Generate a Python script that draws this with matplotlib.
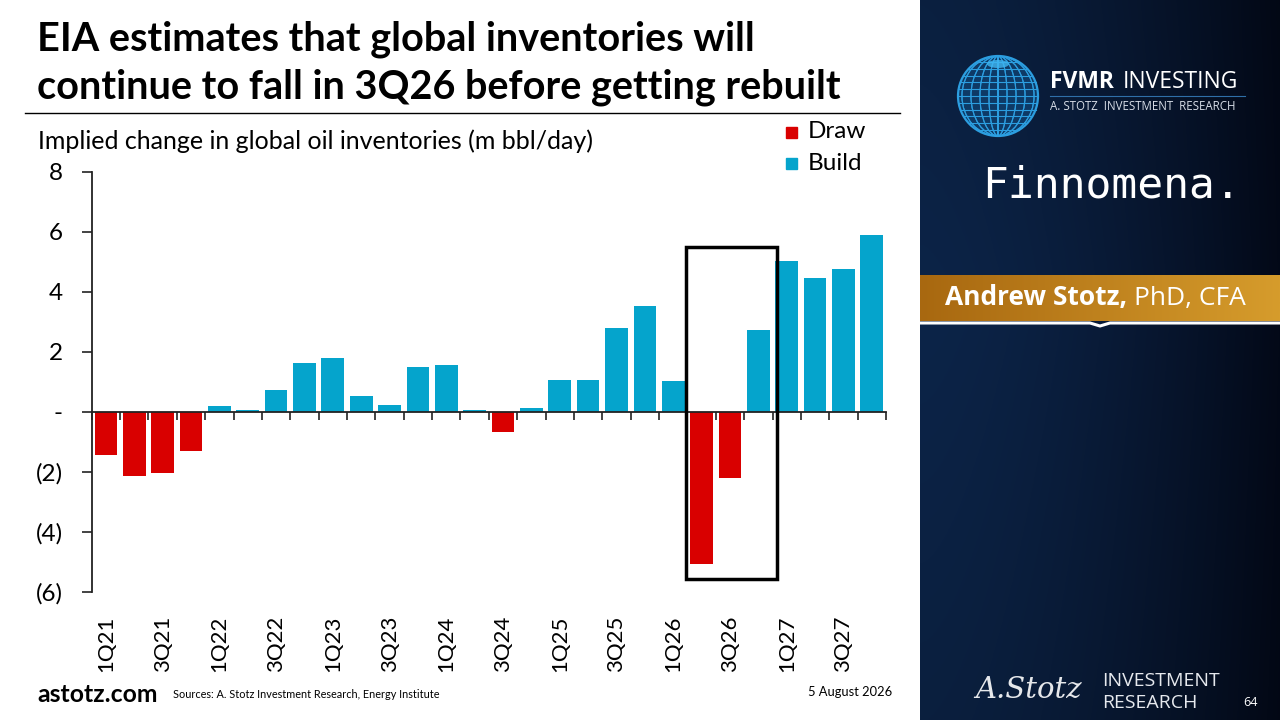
import numpy as np
import matplotlib
matplotlib.use("Agg")
import matplotlib.pyplot as plt
from matplotlib.patches import Rectangle, Circle, Ellipse
from matplotlib.lines import Line2D

# ---------------- data ----------------
quarters = ["1Q21", "2Q21", "3Q21", "4Q21",
            "1Q22", "2Q22", "3Q22", "4Q22",
            "1Q23", "2Q23", "3Q23", "4Q23",
            "1Q24", "2Q24", "3Q24", "4Q24",
            "1Q25", "2Q25", "3Q25", "4Q25",
            "1Q26", "2Q26", "3Q26", "4Q26",
            "1Q27", "2Q27", "3Q27", "4Q27"]
inventory_change = [-1.44, -2.15, -2.05, -1.31,
                    0.20, 0.05, 0.71, 1.61,
                    1.78, 0.52, 0.22, 1.49,
                    1.55, 0.07, -0.68, 0.12,
                    1.05, 1.05, 2.79, 3.52,
                    1.02, -5.09, -2.22, 2.72,
                    5.01, 4.45, 4.76, 5.89]
y_ticks = [8, 6, 4, 2, 0, -2, -4, -6]
y_tick_labels = ["8", "6", "4", "2", "-", "(2)", "(4)", "(6)"]
highlight_start, highlight_end = "2Q26", "4Q26"

RED = "#D90000"
BLUE = "#05A4CC"
FONT = "Lato"

W, H = 1280, 720
fig = plt.figure(figsize=(12.8, 7.2), dpi=100)
fig.patch.set_facecolor("white")

def fx(px):
    return px / W

def fy(py):
    return 1 - py / H

# ---------------- right dark panel ----------------
pan = fig.add_axes([fx(920), 0, fx(360), 1])
pan.set_xlim(0, 360)
pan.set_ylim(720, 0)
pan.axis("off")
gx = np.linspace(0, 1, 256)
gy = np.linspace(0, 1, 256)
GX, GY = np.meshgrid(gx, gy)
c_left = np.array([0x0C, 0x24, 0x48]) / 255
c_right = np.array([0x03, 0x09, 0x18]) / 255
t = np.clip(GX ** 1.6, 0, 1)[..., None]
img = c_left * (1 - t) + c_right * t
img = img * (1 - 0.25 * np.abs(GY - 0.45)[..., None])
pan.imshow(img, extent=[0, 360, 720, 0], aspect="auto", zorder=0)

# globe
cx, cy, r = 78, 96, 40
globe_col = "#2C9EE0"
clip = Circle((cx, cy), r, transform=pan.transData)
pan.add_patch(Circle((cx, cy), r, fc="#0E3A66", ec=globe_col, lw=1.6, zorder=2))
for k in np.linspace(-0.9, 0.9, 9):
    e = Ellipse((cx, cy), 2 * r * abs(k) + 0.1, 2 * r, fill=False, ec=globe_col, lw=0.8, zorder=3)
    e.set_clip_path(clip)
    pan.add_patch(e)
for k in np.linspace(-0.85, 0.85, 11):
    yy = cy + k * r
    half = r * np.sqrt(max(0, 1 - k * k))
    pan.add_line(Line2D([cx - half, cx + half], [yy, yy], color=globe_col, lw=0.8, zorder=3))
pan.add_patch(Ellipse((cx, cy - r + 8), 22, 8, fc="#3FB6F2", ec="none", zorder=4, alpha=0.8))

pan.text(130, 82, "FVMR", color="white", fontsize=16.5, fontweight="bold",
         family="Open Sans", va="center", ha="left")
pan.text(203, 82, "INVESTING", color="white", fontsize=16.5,
         family="Open Sans", va="center", ha="left")
pan.add_line(Line2D([130, 325], [96, 96], color="#2F6FA8", lw=0.8))
pan.text(130, 107, "A. STOTZ  INVESTMENT  RESEARCH", color="#D8DEE8", fontsize=8.3,
         family="Open Sans", va="center", ha="left")
pan.text(62, 186, "Finnomena.", color="white", fontsize=31, family="DejaVu Sans Mono",
         va="center", ha="left")

# gold band
band = np.linspace(0, 1, 256)[None, :, None]
g1 = np.array([0xA8, 0x68, 0x10]) / 255
g2 = np.array([0xD6, 0x9C, 0x2C]) / 255
gimg = g1 * (1 - band) + g2 * band
pan.imshow(gimg, extent=[0, 360, 321, 275], aspect="auto", zorder=2)
pan.add_line(Line2D([0, 170, 180, 190, 360], [323, 323, 326, 323, 323], color="white", lw=2.2, zorder=3))
pan.text(25, 298, "Andrew Stotz,", color="white", fontsize=19, fontweight="bold",
         family="Open Sans", va="center", ha="left", zorder=4)
pan.text(214, 298, "PhD, CFA", color="white", fontsize=19,
         family="Open Sans", va="center", ha="left", zorder=4)

# bottom logo
pan.text(55, 690, "A.Stotz", color="white", fontsize=21, style="italic",
         family="DejaVu Serif", va="center", ha="left", alpha=0.9)
pan.text(182, 681, "INVESTMENT", color="#E6E9EE", fontsize=14,
         family="Open Sans", va="center", ha="left")
pan.text(182, 703, "RESEARCH", color="#E6E9EE", fontsize=14,
         family="Open Sans", va="center", ha="left")
pan.text(323, 703, "64", color="white", fontsize=9, family="Open Sans",
         va="center", ha="left")

# ---------------- titles / footer ----------------
fig.text(fx(37), fy(51), "EIA estimates that global inventories will", fontsize=28.5,
         fontweight="bold", family=FONT, va="baseline", ha="left")
fig.text(fx(37), fy(98), "continue to fall in 3Q26 before getting rebuilt", fontsize=28.5,
         fontweight="bold", family=FONT, va="baseline", ha="left")
fig.add_artist(Line2D([fx(25), fx(900)], [fy(113), fy(113)], color="black", lw=1.0))
fig.text(fx(38), fy(141), "Implied change in global oil inventories (m bbl/day)",
         fontsize=18, family=FONT, va="center", ha="left")

fig.text(fx(37), fy(694), "astotz.com", fontsize=17.8, fontweight="bold", family=FONT,
         va="center", ha="left")
fig.text(fx(173), fy(694), "Sources: A. Stotz Investment Research, Energy Institute",
         fontsize=7.8, family=FONT, va="center", ha="left")
fig.text(fx(808), fy(692), "5 August 2026", fontsize=9.3, family=FONT, va="center", ha="left")

# ---------------- chart ----------------
ax = fig.add_axes([fx(91.7), fy(591.7), fx(886 - 91.7), 420 / H])
idx = np.arange(len(quarters))
vals = np.array(inventory_change)
colors = [RED if v < 0 else BLUE for v in vals]
ax.bar(idx, vals, width=0.8, color=colors, edgecolor="none", zorder=2)

ax.set_xlim(-0.5, len(quarters) - 0.5)
ax.set_ylim(-6, 8)
for s in ["top", "right"]:
    ax.spines[s].set_visible(False)
ax.spines["bottom"].set_position(("data", 0))
ax.spines["bottom"].set_color("#222222")
ax.spines["bottom"].set_linewidth(1.3)
ax.spines["bottom"].set_zorder(3)
ax.spines["left"].set_color("#222222")
ax.spines["left"].set_linewidth(1.3)

ax.set_xticks(np.arange(-0.5, len(quarters), 1))
ax.tick_params(axis="x", direction="out", length=6, width=1.2, color="#222222",
               labelbottom=False)
ax.set_yticks(y_ticks)
ax.set_yticklabels(y_tick_labels)
ax.tick_params(axis="y", direction="out", length=7, width=1.2, color="#222222",
               pad=14, labelsize=17.5)
for lab in ax.get_yticklabels():
    lab.set_family(FONT)

sec = ax.secondary_xaxis("bottom")
sec.set_xticks(idx[::2])
sec.set_xticklabels(quarters[::2], rotation=90, family=FONT, fontsize=16)
sec.tick_params(length=0, pad=17)
sec.spines["bottom"].set_visible(False)

# highlight box
i0 = quarters.index(highlight_start)
i1 = quarters.index(highlight_end)
box_bottom = min(inventory_change[i0:i1 + 1]) - 0.5
box_top = 5.48
ax.add_patch(Rectangle((i0 - 0.55, box_bottom), (i1 - i0) + 1.2, box_top - box_bottom,
                       fill=False, ec="black", lw=2.5, zorder=4, clip_on=False))

# legend
fig.add_artist(Rectangle((fx(786), fy(138)), fx(11), 11 / H, color=RED))
fig.text(fx(808), fy(132), "Draw", fontsize=17.5, family=FONT, va="center", ha="left")
fig.add_artist(Rectangle((fx(786), fy(169)), fx(11), 11 / H, color=BLUE))
fig.text(fx(808), fy(163), "Build", fontsize=17.5, family=FONT, va="center", ha="left")

fig.savefig("out.png", dpi=100)
